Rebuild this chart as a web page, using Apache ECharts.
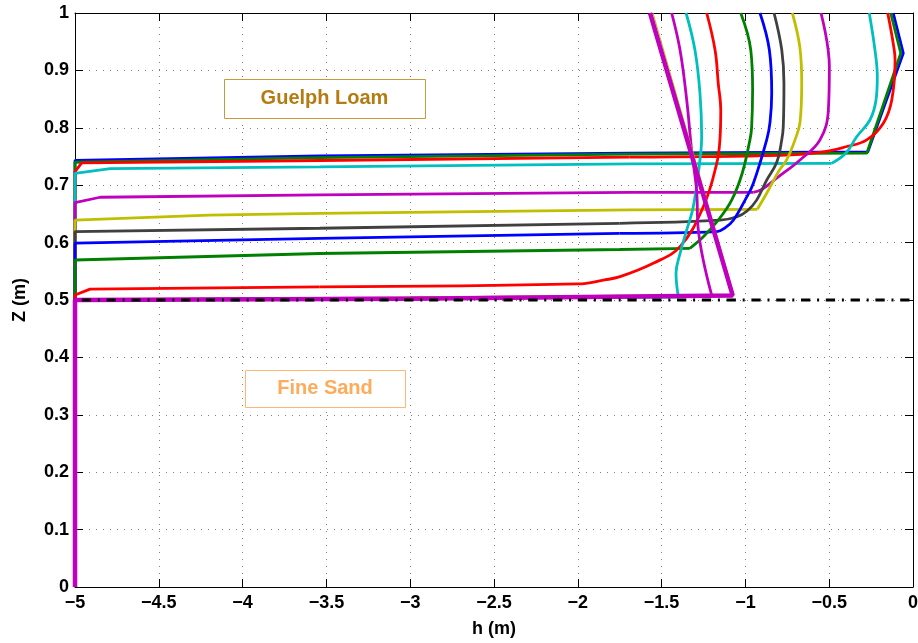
<!DOCTYPE html>
<html>
<head>
<meta charset="utf-8">
<script src="https://cdn.jsdelivr.net/npm/echarts@6/dist/echarts.min.js"></script>
<style>
  html, body { margin: 0; padding: 0; background: #fff; }
  #chart { width: 918px; height: 643px; }
</style>
</head>
<body>
<div id="chart"></div>
<script>
// ===================================================================
// DONNEES : profils h(z), un tableau [h, z] par pas de temps

var prof1 = [[-5, 0], [-5, 0.743], [-3.54, 0.751], [-1.69, 0.756], [-0.27, 0.758], [-0.058, 0.930], [-0.118, 1.0]];
var prof2 = [[-5, 0], [-5, 0.740], [-3.54, 0.748], [-1.69, 0.754], [-0.275, 0.756], [-0.073, 0.930], [-0.133, 1.0]];
var prof3 = [[-5, 0], [-5, 0.7235], [-4.96, 0.739], [-3.54, 0.743], [-1.69, 0.749], [-0.79, 0.752], [-0.555, 0.757], [-0.40, 0.767], [-0.276, 0.779], [-0.177, 0.808], [-0.127, 0.848], [-0.107, 0.918], [-0.118, 0.947], [-0.151, 1.0]];
var prof4 = [[-5, 0], [-5, 0.7206], [-4.79, 0.729], [-3.54, 0.732], [-1.69, 0.737], [-0.485, 0.738], [-0.40, 0.756], [-0.336, 0.7845], [-0.257, 0.8136], [-0.221, 0.848], [-0.213, 0.889], [-0.227, 0.9355], [-0.261, 1.0]];
var prof5 = [[-5, 0], [-5, 0.6696], [-4.85, 0.679], [-3.54, 0.683], [-1.69, 0.6876], [-0.953, 0.6876], [-0.90, 0.693], [-0.81, 0.713], [-0.674, 0.744], [-0.555, 0.779], [-0.505, 0.831], [-0.499, 0.906], [-0.549, 1.0]];
var prof6 = [[-5, 0], [-5, 0.639], [-4.2, 0.648], [-3.54, 0.651], [-1.69, 0.657], [-0.929, 0.658], [-0.873, 0.686], [-0.80, 0.725], [-0.754, 0.744], [-0.704, 0.779], [-0.674, 0.81], [-0.664, 0.8775], [-0.675, 0.94], [-0.720, 1.0]];
var prof7 = [[-5, 0], [-5, 0.619], [-3.54, 0.625], [-1.75, 0.6336], [-1.15, 0.639], [-1.05, 0.645], [-0.99, 0.655], [-0.933, 0.674], [-0.873, 0.709], [-0.813, 0.74], [-0.783, 0.779], [-0.774, 0.802], [-0.770, 0.8775], [-0.783, 0.9355], [-0.829, 1.0]];
var prof8 = [[-5, 0], [-5, 0.599], [-3.54, 0.6075], [-1.75, 0.616], [-1.17, 0.619], [-1.12, 0.626], [-1.072, 0.639], [-1.002, 0.674], [-0.953, 0.703], [-0.873, 0.779], [-0.853, 0.81], [-0.843, 0.86], [-0.857, 0.9355], [-0.913, 1.0]];
var prof9 = [[-5, 0], [-5, 0.5697], [-3.54, 0.581], [-1.75, 0.588], [-1.331, 0.590], [-1.251, 0.610], [-1.16, 0.640], [-1.082, 0.674], [-1.02, 0.72], [-0.973, 0.779], [-0.963, 0.80], [-0.957, 0.866], [-0.968, 0.9355], [-1.028, 1.0]];
var prof10 = [[-5, 0], [-5, 0.5087], [-4.91, 0.519], [-3.54, 0.523], [-2.0, 0.528], [-1.84, 0.535], [-1.748, 0.5406], [-1.55, 0.564], [-1.39, 0.593], [-1.251, 0.6626], [-1.171, 0.738], [-1.152, 0.779], [-1.147, 0.831], [-1.162, 0.8775], [-1.181, 0.9355], [-1.231, 1.0]];
var prof11 = [[-5, 0], [-5, 0.5], [-1.40, 0.505], [-1.414, 0.5465], [-1.39, 0.581], [-1.35, 0.622], [-1.311, 0.6626], [-1.271, 0.744], [-1.261, 0.785], [-1.271, 0.86], [-1.301, 0.9355], [-1.354, 1.0]];
var prof12 = [[-5, 0], [-5, 0.5], [-1.20, 0.507], [-1.281, 0.622], [-1.291, 0.69], [-1.321, 0.761], [-1.35, 0.848], [-1.39, 0.9355], [-1.44, 1.0]];
var prof13 = [[-5, 0], [-5, 0.5], [-1.07, 0.51], [-1.551, 1.0]];

// condition initiale (trait epais) et interface entre les deux sols
var initial = [[-5, 0], [-5, 0.5], [-3, 0.502], [-1.076, 0.508], [-1.569, 1.0]];
var interfaceLine = [[-5, 0.5], [0, 0.5]];

// axes
var xMin = -5, xMax = 0, xStep = 0.5;
var yMin = 0, yMax = 1, yStep = 0.1;

// ===================================================================
// STYLES

var fontFamily = "'Liberation Sans', Arial, Helvetica, sans-serif";
var color_blue = '#0000ff';
var color_green = '#008000';
var color_red = '#ff0000';
var color_cyan = '#00bfbf';
var color_magenta = '#bf00bf';
var color_yellow = '#bfbf00';
var color_gray = '#404040';
var colorOrder = [color_blue, color_green, color_red, color_cyan, color_magenta, color_yellow, color_gray];

var profiles = [prof1, prof2, prof3, prof4, prof5, prof6, prof7, prof8, prof9, prof10, prof11, prof12, prof13];
// indice du point a partir duquel le profil est courbe (lissage), -1 = tout droit
var curveFrom = [-1, -1, 4, 5, 5, 5, 3, 3, 4, 3, 2, 2, -1];

function fmt(v) {
  var r = Math.round(v * 10) / 10;
  return String(r).replace('-', '\u2212');
}

var gridStyle = {show: true, lineStyle: {color: '#808080', width: 1, type: [1, 6]}};
var tickStyle = {show: true, inside: true, length: 8, lineStyle: {color: '#000', width: 1}};
var labelStyle = {color: '#000', fontFamily: fontFamily, fontWeight: 'bold', fontSize: 18};

function lineSeries(data, color, width, smooth, z) {
  return {
    type: 'line',
    data: data,
    showSymbol: false,
    silent: true,
    smooth: smooth,
    smoothConstraint: false,
    lineStyle: {color: color, width: width},
    z: z
  };
}

var series = [];
profiles.forEach(function (p, i) {
  var color = colorOrder[i % colorOrder.length];
  var width = i === 12 ? 1 : 2.8;
  var k = curveFrom[i];
  if (k < 0) {
    series.push(lineSeries(p, color, width, false, 2));
  } else {
    // partie droite puis partie courbe (lissee)
    series.push(lineSeries(p.slice(0, k + 1), color, width, false, 2));
    series.push(lineSeries(p.slice(k), color, width, 0.4, 2));
  }
});

series.push(lineSeries(initial, color_magenta, 4.5, false, 3));

series.push({
  type: 'line',
  data: interfaceLine,
  showSymbol: false,
  silent: true,
  lineStyle: {color: '#000', width: 3.2, type: [9.3, 6.8, 2, 6.7], dashOffset: 18},
  z: 4
});

var chart = echarts.init(document.getElementById('chart'), null, {renderer: 'canvas'});

var option = {
  backgroundColor: '#fff',
  animation: false,
  grid: {left: 75, right: 5, top: 13, bottom: 56, outerBoundsMode: 'none', containLabel: false},
  xAxis: [
    {
      type: 'value', min: xMin, max: xMax, interval: xStep,
      name: 'h (m)', nameLocation: 'middle', nameGap: 33,
      nameTextStyle: {color: '#000', fontFamily: fontFamily, fontWeight: 'bold', fontSize: 18},
      axisLine: {show: true, onZero: false, lineStyle: {color: '#000', width: 1}},
      axisTick: tickStyle,
      axisLabel: Object.assign({margin: 7, formatter: fmt}, labelStyle),
      splitLine: gridStyle
    },
    {
      type: 'value', min: xMin, max: xMax, interval: xStep, position: 'top',
      axisLine: {show: true, onZero: false, lineStyle: {color: '#000', width: 1}},
      axisTick: tickStyle,
      axisLabel: {show: false},
      splitLine: {show: false}
    }
  ],
  yAxis: [
    {
      type: 'value', min: yMin, max: yMax, interval: yStep,
      name: 'Z (m)', nameLocation: 'middle', nameGap: 46, nameRotate: 90,
      nameTextStyle: {color: '#000', fontFamily: fontFamily, fontWeight: 'bold', fontSize: 18},
      axisLine: {show: true, onZero: false, lineStyle: {color: '#000', width: 1}},
      axisTick: tickStyle,
      axisLabel: Object.assign({margin: 6, formatter: fmt}, labelStyle),
      splitLine: gridStyle
    },
    {
      type: 'value', min: yMin, max: yMax, interval: yStep, position: 'right',
      axisLine: {show: true, onZero: false, lineStyle: {color: '#000', width: 1}},
      axisTick: tickStyle,
      axisLabel: {show: false},
      splitLine: {show: false}
    }
  ],
  graphic: [
    {
      type: 'rect', left: 224, top: 79, z: 10,
      shape: {width: 201, height: 39},
      style: {fill: '#fff', stroke: '#c99a3c', lineWidth: 1}
    },
    {
      type: 'text', x: 324.5, y: 98.5, z: 11,
      style: {text: 'Guelph Loam', fill: '#b47c10', font: 'bold 20px ' + fontFamily, align: 'center', verticalAlign: 'middle'}
    },
    {
      type: 'rect', left: 245, top: 370, z: 10,
      shape: {width: 160, height: 37},
      style: {fill: '#fff', stroke: '#ffb870', lineWidth: 1}
    },
    {
      type: 'text', x: 325, y: 388.5, z: 11,
      style: {text: 'Fine Sand', fill: '#ffab5c', font: 'bold 20px ' + fontFamily, align: 'center', verticalAlign: 'middle'}
    }
  ],
  series: series
};

chart.setOption(option);
</script>
</body>
</html>
